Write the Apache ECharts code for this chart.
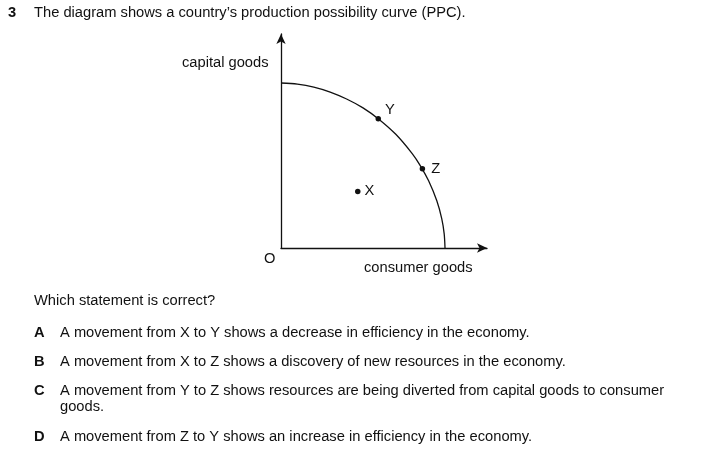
<!DOCTYPE html>
<html><head><meta charset="utf-8">
<script src="https://cdn.jsdelivr.net/npm/echarts@6/dist/echarts.min.js"></script>
<style>html,body{margin:0;padding:0;background:#fff}#c{width:726px;height:458px}</style>
</head><body><div id="c"></div>
<script>
// PPC curve (units: curve meets each axis at 10)
const curveX = [0, 1, 2, 3, 4, 5, 6, 7, 8, 8.5, 9, 9.5, 9.8, 9.95, 10];
const curveY = [10, 9.93, 9.75, 9.45, 9.03, 8.49, 7.78, 6.89, 5.72, 4.98, 4.07, 2.86, 1.78, 0.86, 0];
const pointNames = ['Y', 'Z', 'X'];
const pointX = [5.93, 8.62, 4.68];
const pointY = [7.83, 4.8, 3.43];
const titleText = 'The diagram shows a country\u2019s production possibility curve (PPC).';
const questionText = 'Which statement is correct?';
const optionLetters = ['A', 'B', 'C', 'D'];
const optionTexts = [
  'A movement from X to Y shows a decrease in efficiency in the economy.',
  'A movement from X to Z shows a discovery of new resources in the economy.',
  'A movement from Y to Z shows resources are being diverted from capital goods to consumer\ngoods.',
  'A movement from Z to Y shows an increase in efficiency in the economy.'
];
const optionTops = [325, 354, 383, 429];

const FONT = '"Liberation Sans", Arial, sans-serif';
const FS = '14.7px ';
const chart = echarts.init(document.getElementById('c'));
const graphics = [
  {type:'text', left:8, top:5, style:{text:'3', font:'bold ' + FS + FONT, fill:'#111'}},
  {type:'text', left:34, top:5, style:{text:titleText, font:FS + FONT, fill:'#111'}},
  {type:'text', left:34, top:293, style:{text:questionText, font:FS + FONT, fill:'#111'}},
  {type:'text', left:182, top:55, style:{text:'capital goods', font:FS + FONT, fill:'#111'}},
  {type:'text', left:364, top:260, style:{text:'consumer goods', font:FS + FONT, fill:'#111'}},
  {type:'text', left:264, top:251, style:{text:'O', font:FS + FONT, fill:'#111'}}
];
optionLetters.forEach((l, i) => {
  graphics.push({type:'text', left:34, top:optionTops[i], style:{text:l, font:'bold ' + FS + FONT, fill:'#111'}});
  graphics.push({type:'text', left:60, top:optionTops[i], style:{text:optionTexts[i], font:FS + FONT, fill:'#111', lineHeight:16}});
});

const labelPos = {Y:[-1,-9], Z:[1,0], X:[-1,0]};
chart.setOption({
  animation:false,
  grid:{left:281, top:248-214, width:206, height:214},
  xAxis:{type:'value', min:0, max:12.56, axisLine:{onZero:false, symbol:['none','arrow'], symbolSize:[7,10], lineStyle:{color:'#111', width:1.3}},
    axisTick:{show:false}, axisLabel:{show:false}, splitLine:{show:false}},
  yAxis:{type:'value', min:0, max:12.97, axisLine:{onZero:false, symbol:['none','arrow'], symbolSize:[7,10], lineStyle:{color:'#111', width:1.3}},
    axisTick:{show:false}, axisLabel:{show:false}, splitLine:{show:false}},
  series:[
    {type:'line', data:curveX.map((x,i)=>[x,curveY[i]]), smooth:0.3, showSymbol:false, lineStyle:{color:'#111', width:1.3}},
    {type:'scatter', data:pointNames.map((n,i)=>({name:n, value:[pointX[i], pointY[i]],
      label:{show:true, formatter:n, position:'right', offset:labelPos[n], color:'#111', opacity:1, fontSize:14.7, fontFamily:FONT}})),
      symbolSize:5.5, itemStyle:{color:'#111', opacity:1}}
  ],
  graphic:graphics
});
</script></body></html>
